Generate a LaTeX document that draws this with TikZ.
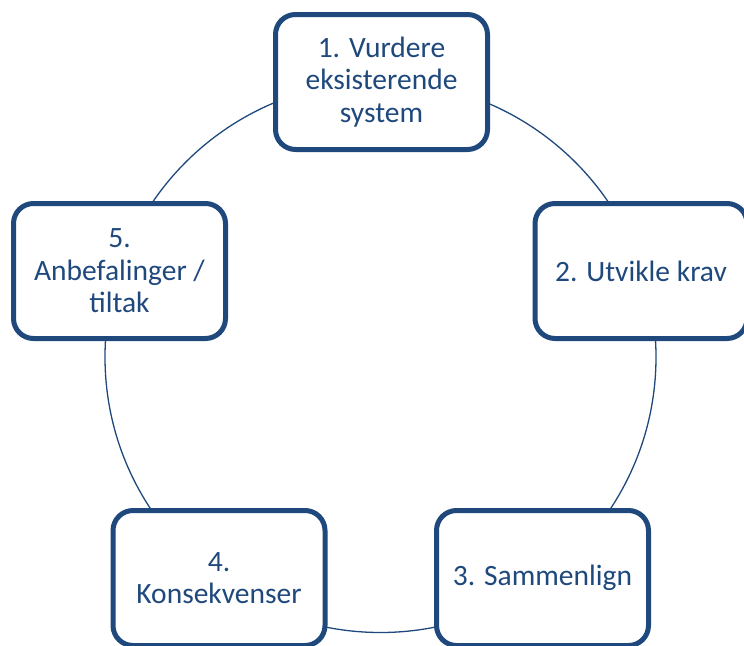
\documentclass[tikz,border=0pt]{standalone}
\usepackage{fontspec}
\setmainfont{Carlito}
\definecolor{stepblue}{HTML}{1F497D}

\begin{document}
\begin{tikzpicture}[x=1pt, y=-1pt,
		stepbox/.style={draw=stepblue, line width=5pt, rounded corners=20pt, fill=white,
			minimum width=212pt, minimum height=135pt, align=center, text=stepblue,
			font=\fontsize{29.5}{32.5}\selectfont}]
		\useasboundingbox (0, 0) rectangle (744, 645);
		\draw [stepblue, line width=1.3pt] (380.5, 357) circle [radius=275.5];
		\node [stepbox] (s1) at (381.5, 82) {1. Vurdere\\eksisterende\\system};
		\node [stepbox] (s2) at (641, 271) {2. Utvikle krav};
		\node [stepbox] (s3) at (542.5, 578) {3. Sammenlign};
		\node [stepbox] (s4) at (219, 578) {4.\\Konsekvenser};
		\node [stepbox] (s5) at (119.5, 271) {5.\\Anbefalinger /\\tiltak};
	\end{tikzpicture}
\end{document}
